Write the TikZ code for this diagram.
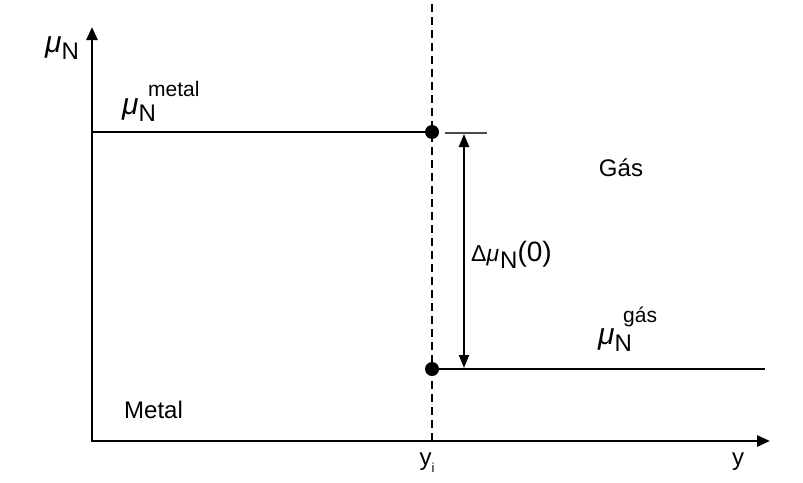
\documentclass[tikz,border=0pt]{standalone}
\usepackage{fontspec}
\setmainfont{Liberation Sans}
\usetikzlibrary{arrows.meta}
\newcommand{\mysym}{{\fontsize{30}{30}\selectfont\itshape μ}}
\newcommand{\mysub}[1]{\raisebox{-0.32em}{#1}}
\tikzset{
  bigtip/.tip={Triangle[length=13pt,width=11pt]},
  smalltip/.tip={Triangle[length=13pt,width=10pt]}}
\begin{document}
\begin{tikzpicture}[x=1pt,y=-1pt,
  ax/.style={line width=2.7pt, line join=miter},
  lvl/.style={line width=2.6pt},
  dot/.style={circle, fill=black, inner sep=0pt, minimum size=14pt},
  lbl/.style={inner sep=0pt, font=\fontsize{24}{28}\selectfont},
  suplbl/.style={inner sep=0pt, font=\fontsize{21}{24}\selectfont}]
\useasboundingbox[fill=white] (0,0) rectangle (803,482);
% axes
\coordinate (O) at (92,441);
\coordinate (ytop) at (92,27);
\coordinate (xend) at (770,441);
\draw[ax,bigtip-bigtip] (ytop) -- (O) -- (xend);
% interface
\coordinate (dtop) at (432,4);
\coordinate (dbot) at (432,441);
\draw[line width=2.4pt, dash pattern=on 8pt off 5pt] (dtop) -- (dbot);
\node[dot] (pm) at (432,132) {};
\node[dot] (pg) at (432,369) {};
% levels
\coordinate (m0) at (92,132);
\draw[lvl] (m0) -- (pm.center);
\coordinate (g1) at (765,369);
\draw[lvl] (pg.center) -- (g1);
% tick
\coordinate (t0) at (445,133);
\coordinate (t1) at (487,133);
\draw[line width=1.2pt, black!70] (t0) -- (t1);
% difference arrow
\coordinate (a0) at (464,134);
\coordinate (a1) at (464,368);
\draw[line width=2pt, smalltip-smalltip] (a0) -- (a1);
% labels
\node[lbl] (ylab) at (62,48) {\mysym\mysub{N}};
\node[lbl, anchor=west] (mumet) at (122,110) {\mysym\mysub{N}};
\node[suplbl, anchor=west] (supmet) at (148,89) {metal};
\node[lbl, anchor=west] (dlab) at (471,255) {{\fontsize{23}{23}\selectfont Δ\textit{μ}}\kern1pt\raisebox{-0.3em}{\fontsize{24}{24}\selectfont N}{\fontsize{28}{28}\selectfont (0)}};
\node[lbl] (gas) at (621,168) {Gás};
\node[lbl, anchor=west] (mugas) at (598,340) {\mysym\mysub{N}};
\node[suplbl, anchor=west] (supgas) at (623,317) {gás};
\node[lbl, anchor=west] (metal) at (124,410) {Metal};
\node[lbl] (yi) at (427,463) {y\raisebox{-0.3em}{\fontsize{13}{13}\selectfont i}};
\node[lbl] (ylab2) at (738,462) {y};
\end{tikzpicture}
\end{document}
